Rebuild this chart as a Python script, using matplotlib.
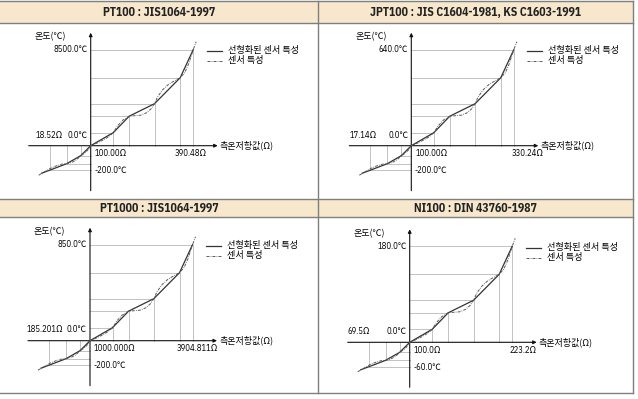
import matplotlib
matplotlib.use('Agg')
import matplotlib.pyplot as plt
from matplotlib.patches import Rectangle

# 글꼴: 좁은 라틴 글꼴 + 한글 대체
FONT = ['IBM Plex Sans Condensed', 'Noto Sans CJK KR', 'DejaVu Sans']
KFONT = ['Noto Sans CJK KR', 'DejaVu Sans']
plt.rcParams['font.family'] = FONT

W, H = 638, 399

# 패널별 텍스트
titles = ['PT100 : JIS1064-1997',
          'JPT100 : JIS C1604-1981, KS C1603-1991',
          'PT1000 : JIS1064-1997',
          'NI100 : DIN 43760-1987']
temp_max = ['8500.0℃', '640.0℃', '850.0℃', '180.0℃']
temp_min = ['-200.0℃', '-200.0℃', '-200.0℃', '-60.0℃']
res_min = ['18.52Ω', '17.14Ω', '185.201Ω', '69.5Ω']
res_zero = ['100.00Ω', '100.00Ω', '1000.000Ω', '100.0Ω']
res_max = ['390.48Ω', '330.24Ω', '3904.811Ω', '223.2Ω']

# 개략도 곡선 (원점 기준 상대 좌표)
lin_x = [-49, -41, -24, -10, 0, 22.5, 38.5, 63.8, 89.5, 102.5]
lin_y = [-27.5, -24.5, -18, -10, 0, 13, 29.5, 42, 68, 96]
neg_idx = [1, 2, 3]
pos_idx = [5, 6, 7, 8, 9]

sensor_x = [-52, -46, -40, -34, -29, -24, -19, -14, -10, -6, -3, 0,
            6, 12, 18, 22.5, 27, 32, 38.5, 44, 50, 56, 60.5, 63.8,
            67, 72, 78, 84, 89.5, 94, 98, 102.5, 105.5]
sensor_y = [-29.5, -26, -22.5, -20, -18.5, -18, -16.8, -14, -10, -7.5, -4.5, 0,
            2.5, 5.5, 9, 13, 20, 25.5, 29.5, 30, 30.5, 33, 37, 42,
            49, 56, 61.5, 65, 68, 73, 82, 96, 104]

# 패널 원점 위치 (px)
origins = [(90.7, 145.7), (411.3, 145.7), (90.0, 340.7), (409.7, 342.3)]
res_min_x = [-55, -62, -63, -62]
res_max_x = [84, 100, 87, 100]
title_y = [12, 208]
panel_cx = [159, 475.5]

fig = plt.figure(figsize=(W / 100, H / 100), dpi=100)

# 배경 프레임 (헤더, 경계선)
bg = fig.add_axes([0, 0, 1, 1])
bg.set_xlim(0, W)
bg.set_ylim(H, 0)
bg.axis('off')
for y0, y1 in [(1, 23), (199, 217)]:
    bg.add_patch(Rectangle((0, y0), 633, y1 - y0, facecolor='#f7e7cd',
                           edgecolor='none'))
for y in [1, 23, 199, 217, 393]:
    bg.plot([0, 633], [y, y], color='#7f7f7f', lw=1.0)
for x in [318, 633]:
    bg.plot([x, x], [1, 393], color='#7f7f7f', lw=1.0)
for i, t in enumerate(titles):
    bg.text(panel_cx[i % 2], title_y[i // 2], t, ha='center', va='center',
            fontsize=8.5, fontweight='bold', color='#222222')

GRID = '#b8b8b8'
for i, (ox, oy) in enumerate(origins):
    ax = fig.add_axes([(ox - 65) / W, (H - (oy + 55)) / H, 280 / W, 173 / H])
    ax.set_xlim(-65, 215)
    ax.set_ylim(-55, 118)
    ax.axis('off')

    # 보조선
    for k in pos_idx + neg_idx:
        x, y = lin_x[k], lin_y[k]
        ax.plot([0, x], [y, y], color=GRID, lw=0.6, zorder=1)
        ax.plot([x, x], [0, y], color=GRID, lw=0.6, zorder=1)

    # 축
    ax.annotate('', xy=(127, 0), xytext=(-62, 0),
                arrowprops=dict(arrowstyle='-|>', lw=0.8, color='#111111',
                                mutation_scale=5, shrinkA=0, shrinkB=0))
    ax.annotate('', xy=(0, 113), xytext=(0, -45),
                arrowprops=dict(arrowstyle='-|>', lw=0.8, color='#111111',
                                mutation_scale=5, shrinkA=0, shrinkB=0))

    ax.plot(lin_x, lin_y, color='#333333', lw=0.9, zorder=3, clip_on=False)
    ax.plot(sensor_x, sensor_y, color='#5a5a5a', lw=0.7, zorder=3,
            linestyle=(0, (3, 1.2, 0.8, 1.2)), clip_on=False)

    fs = 6.2
    ax.text(-56, 109, '온도(℃)', fontsize=6.5, ha='left', va='center',
            family=KFONT)
    ax.text(-3, lin_y[-1], temp_max[i], fontsize=fs, ha='right', va='center')
    ax.text(res_min_x[i], 10.7, res_min[i], fontsize=fs, ha='left', va='center')
    ax.text(-3, 10.7, '0.0℃', fontsize=fs, ha='right', va='center')
    ax.text(4, -8, res_zero[i], fontsize=fs, ha='left', va='center')
    ax.text(res_max_x[i], -8, res_max[i], fontsize=fs, ha='left', va='center')
    ax.text(3.5, -25, temp_min[i], fontsize=fs, ha='left', va='center')
    ax.text(129, 0, '측온저항값(Ω)', fontsize=6.5, ha='left', va='center',
            family=KFONT)

    # 범례
    ax.plot([116, 131], [94.5, 94.5], color='#333333', lw=0.9, clip_on=False)
    ax.plot([116, 131], [84.5, 84.5], color='#5a5a5a', lw=0.7,
            linestyle=(0, (3, 1.2, 0.8, 1.2)), clip_on=False)
    ax.text(137, 95, '선형화된 센서 특성', fontsize=6.6, ha='left', va='center',
            family=KFONT)
    ax.text(137, 85, '센서 특성', fontsize=6.6, ha='left', va='center',
            family=KFONT)

fig.savefig('out.png', dpi=100)
